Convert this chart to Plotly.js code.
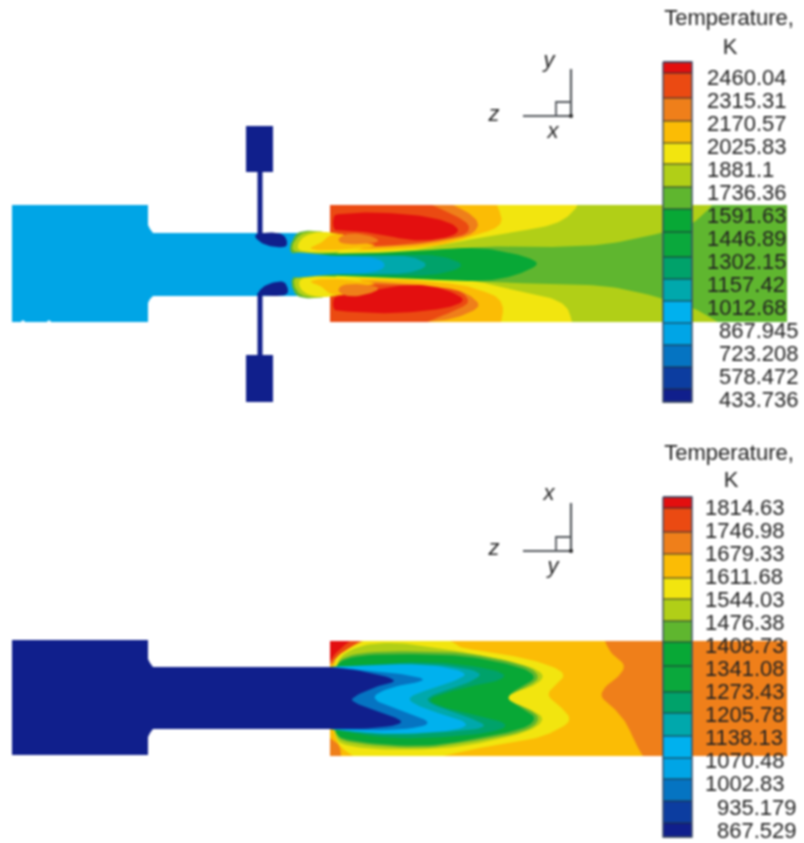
<!DOCTYPE html>
<html><head><meta charset="utf-8">
<script src="https://cdn.plot.ly/plotly-3.0.1.min.js"></script>
<style>html,body{margin:0;padding:0;background:#fff}#plot{width:804px;height:843px;filter:blur(0.8px)}</style>
</head><body><div id="plot"></div>
<script>
// Colour bands, hottest to coldest
const bandColors = ['#e30f0f','#eb4a12','#ef7f1a','#fbbc05','#f2e50f','#b1cf17','#5fb62f','#08a836','#0aa83c','#00a26a','#00a8ac','#00b1ee','#00a5e6','#0574c2','#0c3da0','#101f8c'];
const RED=0,ORANGERED=1,ORANGE=2,AMBER=3,YELLOW=4,LIME=5,GREEN=6,DKGREEN=7,TEALGREEN=9,TEAL=10,CYAN=11,BLUE=12,MIDBLUE=13,NAVY=15;

// Colour-bar labels
const topLabelsLong = ['2460.04','2315.31','2170.57','2025.83','1881.1','1736.36','1591.63','1446.89','1302.15','1157.42','1012.68'];
const topLabelsShort = ['867.945','723.208','578.472','433.736'];
const botLabelsLong = ['1814.63','1746.98','1679.33','1611.68','1544.03','1476.38','1408.73','1341.08','1273.43','1205.78','1138.13','1070.48','1002.83'];
const botLabelsShort = ['935.179','867.529'];
// Colour-bar band edges
const topBarEdges = [62,73,98,121,143,164,187,209,232,257,279,301,323,345,367,389,402];
const botBarEdges = [497,508,532,554,578,599,621,642,666,692,713,736,758,779,801,823,837];

// Solid geometry, top field
const topShapes = [
 [BLUE,[12,21,22,24,25,47,48,50,51,148,148,150,153,330,330,153,150,148,148,51,50,48,47,25,24,22,21,12],
       [205,205,205,205,205,205,205,205,205,205,225,229,233,233,296,296,299,303,322,322,320.5,320.5,322,322,320.5,320.5,322,322]],
 [NAVY,[246,273,273,262.5,262.5,257.5,257.5,246],[126,126,172,172,236,236,172,172]],
 [NAVY,[257.5,262.5,262.5,273,273,246,246,257.5],[293,293,355,355,402,402,355,355]]
];
// Contours touching the wide section's walls, top field
const topWallRegions = [
 [LIME,[330,787,787,330],[205,205,322,322]],
 [GREEN,[330,477,520,560,603,640,690,705,712,787,787,718,700,685,640,600,560,520,477,330],[262,246,247,247,245,238,226,213,205,205,322,322,311,305,292,285,285,283,282,268]],
 [YELLOW,[330,577,577,567,550,520,500,477,450,420,390,330],[205,205,207,218,226,231,234,238,243.5,249.5,252,253.5]],
 [YELLOW,[330,400,473,500,527,553,568,572,330],[275.5,276.5,280,287,293,298,307,322,322]],
 [AMBER,[330,497,503,497,480,463,447,420,387,330],[205,205,220,228,234,239,244,248,250,251]],
 [AMBER,[330,400,437,463,480,497,504,501,330],[278,279,282,285,290,296,307,322,322]],
 [ORANGE,[330,453,468,480,474,460,420,373,340,330],[205,205,212,223,233,238,245,247.5,248,248]],
 [ORANGE,[330,370,437,463,479,478,454,427,330],[281,281,286,291,302,309,319,322,322]],
 [ORANGERED,[330,432,448,469,469,453,420,397,373,330],[205,205,212,223,233,238,243,245,246.5,247]],
 [ORANGERED,[330,393,447,463,470,461,427,330],[283,284,288,292,302,308,322,322]]
];
// Free-standing contours, top field
const topInnerRegions = [
 [NAVY,[254,270,284,288,285,267,257],[234,232,234,243,248,246,240]],
 [NAVY,[256,264,283,288,288,262],[295,285,280,287,296,296]],
 [RED,[333,340,370,420,450,461,447,420,397,370,340,333],[215,214,212,215,222,231,238,241,238,232,231,230]],
 [RED,[333,340,377,400,433,464,461,437,387,340,333],[297,296,289,285,285,297,304,310,314,311,310]],
 // upper jet
 [GREEN,[289,293,300,332,342,332,294],[250,238,230,232,250,256,255]],
 [LIME,[291,296,306,332,347,330,298],[249,238,231,232,250,254,253]],
 [YELLOW,[296,301,314,332,352,349,368,330,306],[249,238,232,232,237,243,249,252.5,252]],
 [AMBER,[306,322,330,345,354,384,330],[249,243,234,234,241,246,251]],
 [ORANGE,[336,350,376,380,344],[239,232,237,243,245]],
 // lower jet
 [GREEN,[291,293,300,332,342,332,296],[280,291,299,297,280,274,275]],
 [LIME,[293,296,306,332,347,330,298],[280,291,298,297,280,275,277]],
 [YELLOW,[298,301,314,332,352,349,368,330,306],[281,291,297,297,292,286,280,276,277]],
 [AMBER,[306,322,330,345,354,384,330],[281,286,295,295,288,283,278]],
 [ORANGE,[336,350,376,380,344],[291,298,292,286,283]],
 // cold core
 [DKGREEN,[296,330,400,473,507,527,540,527,507,477,400,330,296],[254,254,252.5,246.5,252,257,263.5,271,278,282,278,275.5,275]],
 [TEALGREEN,[310,400,440,468,440,400,310],[255.5,254.5,255,265,275,276,274.5]],
 [TEAL,[310,380,412,430,412,380,310],[256,255.5,256,265,273,274.5,274.5]],
 [BLUE,[283,330,362,380,386,380,362,330,283],[250,256,256,259,265,271,273.5,274,280]]
];

// Solid geometry, bottom field
const botShapes = [
 [NAVY,[12,148,148,150,153,330,330,153,150,148,148,12],[640,640,659,663,667,667,729,729,733,737,755,755]]
];
// Contours, bottom field
const botRegions = [
 [ORANGE,[330,787,787,330],[641,641,756,756]],
 [AMBER,[330,605,610,630,596,613,627,635,643,330],[641,641,653,668,693,707,723,743,756,756]],
 [ORANGE,[330,368,347,330],[641,641,656,665]],
 [ORANGERED,[330,360,341,330],[641,641,653,663]],
 [RED,[330,350,337,330],[641,641,651,661]],
 [ORANGE,[330,340,341,330],[738,745,756,756]],
 [YELLOW,[332,340,363,450,453,460,490,535,568,555,546,559,573,556,535,487,443,353,332],[664,653,641,641,642,648,652,660,673,685,695,705,720,731,739,746,756,756,741]],
 [LIME,[332,358,397,433,460,528,546,535,513,505,528,546,532,487,443,387,350,332],[662,645,642,648,651,665,675,686,692,700,708,718,731,742,749,750,747,739]],
 [GREEN,[332,354,420,470,527,541,529,510,507,529,541,529,470,420,352,332],[665,652,651,653,665,677,686,694,700,709,718,731,742,749,744,736]],
 [DKGREEN,[331,353,420,470,522,537,525,510,507,525,537,525,470,420,353,331],[667,655,654,656,667,677,685,693,700,710,718,729,740,747,742,734]],
 [TEALGREEN,[330,420,470,507,500,470,445,426,445,470,509,500,453,387,330],[667,661,665,673,681,686,693,700,708,714,723,731,737,739,729]],
 [TEAL,[330,420,486,470,433,424,463,492,453,387,330],[667,662,671,683,694,702,715,727,732,735,729]],
 [CYAN,[330,420,470,456,417,406,430,472,455,387,330],[667,663,672,681,693,700,711,723,731,735,729]],
 [MIDBLUE,[330,397,432,393,368,397,438,393,330],[667,673,680,686,698,709,724,731,729]],
 [NAVY,[330,353,402,377,352,352,377,410,370,330],[667,669,680,686,697,702,711,723,729,729]]
];

// Orientation triads
const triadTop = {x:[571,571,523], y:[69,116,116], sx:[556,556,571], sy:[116,102,102]};
const triadBot = {x:[571,571,523], y:[503,551,551], sx:[556,556,571], sy:[551,537,537]};

const traces = [];
function addFill(c,x,y){
  traces.push({type:'scatter',mode:'lines',x:x,y:y,fill:'toself',fillcolor:c,
    line:{width:0,color:c},hoverinfo:'skip',showlegend:false});
}
// Rounds a contour outline by corner cutting; points on a wall stay put
function rounded(xs,ys,isWall){
  let pts = xs.map((x,i)=>({x:x,y:ys[i],fix:isWall(x,ys[i])}));
  for(let k=0;k<3;k++){
    const out=[];
    pts.forEach((p,i)=>{
      if(p.fix){out.push(p);return;}
      const a=pts[(i-1+pts.length)%pts.length], b=pts[(i+1)%pts.length];
      out.push({x:.75*p.x+.25*a.x,y:.75*p.y+.25*a.y,fix:false});
      out.push({x:.75*p.x+.25*b.x,y:.75*p.y+.25*b.y,fix:false});
    });
    pts=out;
  }
  return [pts.map(p=>p.x),pts.map(p=>p.y)];
}
const topWall=(x,y)=>x===330||x===787||y===205||y===322;
const botWall=(x,y)=>x===330||x===787||y===641||y===756;
const noWall=()=>false;
function shape(r){addFill(bandColors[r[0]],r[1],r[2]);}
function contour(wall){return r=>{const p=rounded(r[1],r[2],wall);addFill(bandColors[r[0]],p[0],p[1]);};}
topShapes.forEach(shape);
topWallRegions.forEach(contour(topWall));
topInnerRegions.forEach(contour(noWall));
botShapes.forEach(shape);
botRegions.forEach(contour(botWall));

function colorBar(edges){
  const L=663,R=692;
  bandColors.forEach((c,i)=>addFill(c,[L,R,R,L],[edges[i],edges[i],edges[i+1],edges[i+1]]));
  const lx=[],ly=[];
  edges.forEach(e=>{lx.push(L,R,null);ly.push(e,e,null);});
  traces.push({type:'scatter',mode:'lines',x:lx,y:ly,line:{color:'rgba(35,45,55,0.8)',width:1.2},hoverinfo:'skip',showlegend:false});
  const a=edges[0],b=edges[edges.length-1];
  traces.push({type:'scatter',mode:'lines',x:[L,R,R,L,L],y:[a,a,b,b,a],line:{color:'#3d4a66',width:1.4},hoverinfo:'skip',showlegend:false});
}
colorBar(topBarEdges); colorBar(botBarEdges);

function labels(list,x,y0,step){
  traces.push({type:'scatter',mode:'text',x:list.map(()=>x),y:list.map((t,i)=>y0+i*step),text:list,
    textposition:'middle right',textfont:{family:'Liberation Sans',size:22,color:'#222'},hoverinfo:'skip',showlegend:false,cliponaxis:false});
}
labels(topLabelsLong,707,79,23); labels(topLabelsShort,719,332,23);
labels(botLabelsLong,705,509.5,23); labels(botLabelsShort,717,809,23);

function centered(t,x,y,style){
  traces.push({type:'scatter',mode:'text',x:[x],y:[y],text:[t],textposition:'middle center',
    textfont:{family:'Liberation Sans',size:22,color:'#222',style:style||'normal'},hoverinfo:'skip',showlegend:false,cliponaxis:false});
}
centered('Temperature,',729,19); centered('K',730,48);
centered('Temperature,',729,454); centered('K',731,481);

function triad(t){
  traces.push({type:'scatter',mode:'lines',x:t.x,y:t.y,line:{color:'#55595e',width:2.2},hoverinfo:'skip',showlegend:false});
  traces.push({type:'scatter',mode:'lines',x:t.sx,y:t.sy,line:{color:'#55595e',width:1.8},hoverinfo:'skip',showlegend:false});
  traces.push({type:'scatter',mode:'markers',x:[t.x[1]],y:[t.y[1]],marker:{size:4,color:'#222'},hoverinfo:'skip',showlegend:false});
}
triad(triadTop); triad(triadBot);
centered('y',549,61,'italic'); centered('z',494,115,'italic'); centered('x',553,132,'italic');
centered('x',549,494,'italic'); centered('z',494,549,'italic'); centered('y',553,567,'italic');

Plotly.newPlot('plot',traces,{
  width:804,height:843,margin:{l:0,r:0,t:0,b:0},showlegend:false,
  paper_bgcolor:'#fff',plot_bgcolor:'#fff',
  xaxis:{range:[0,804],visible:false,fixedrange:true},
  yaxis:{range:[843,0],visible:false,fixedrange:true}
},{displayModeBar:false,staticPlot:true});
</script></body></html>
